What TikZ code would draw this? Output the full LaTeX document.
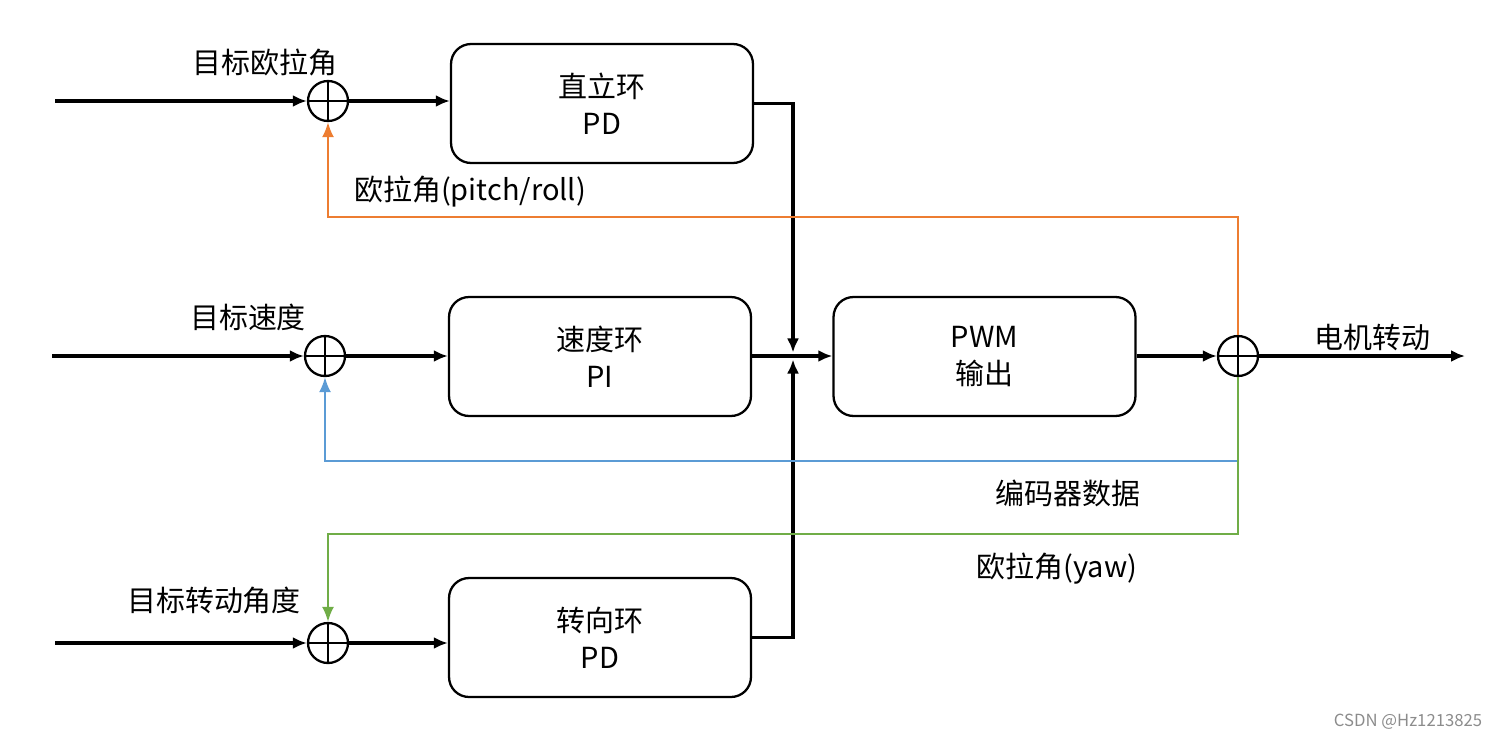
\documentclass[tikz,border=0pt]{standalone}
\usepackage{fontspec}
\setmainfont{Noto Sans CJK SC}
\usetikzlibrary{arrows.meta, positioning}
\definecolor{pitch_orange}{HTML}{ED7D31}
\definecolor{enc_blue}{HTML}{5B9BD5}
\definecolor{yaw_green}{HTML}{70AD47}

\begin{document}
\begin{tikzpicture}[
      x=0.02cm, y=-0.02cm,
      font=\fontsize{16.5}{21}\selectfont,
      loop_box/.style={draw, rounded corners=0.4cm, line width=1.3pt, minimum width=6.04cm, minimum height=2.38cm, align=center},
      sum/.style={circle, draw, line width=1.3pt, minimum size=0.8cm, inner sep=0pt,
        path picture={\draw[line width=0.7pt] (path picture bounding box.north) -- (path picture bounding box.south)
          (path picture bounding box.west) -- (path picture bounding box.east);}},
      arrow/.style={-{Latex[length=0.28cm, width=0.24cm]}, line width=1.9pt},
      feedback/.style={-{Latex[length=0.3cm, width=0.24cm]}, line width=1.2pt}
    ]
      \useasboundingbox (0,0) rectangle (1491,738);

      % Summing points
      \node[sum] (sum_angle) at (328,101) {};
      \node[sum] (sum_speed) at (325,356) {};
      \node[sum] (sum_turn) at (328,643) {};
      \node[sum] (sum_out) at (1238,356) {};

      % Controller boxes
      \node[loop_box] (upright) at (602,103.5) {直立环\\PD};
      \node[loop_box] (speed_loop) at (600,356.5) {速度环\\PI};
      \node[loop_box] (turn_loop) at (600,637.5) {转向环\\PD};
      \node[loop_box] (pwm) at (984.5,356.5) {PWM\\输出};

      % Free ends of the inputs and output
      \coordinate (in_angle) at (55,101);
      \coordinate (in_speed) at (52,356);
      \coordinate (in_turn) at (55,643);
      \coordinate (motor_out) at (1465,356);

      % Junction in front of the PWM block
      \coordinate (junction) at (793,356);

      % Feedback corners
      \coordinate (pitch_corner) at (1238,217);
      \coordinate (enc_tap) at (1238,461);
      \coordinate (yaw_corner) at (1238,534);

      % Labels
      \node at (265,62) {目标欧拉角};
      \node at (248,317) {目标速度};
      \node at (214,601) {目标转动角度};
      \node at (470,192) {欧拉角(pitch/roll)};
      \node at (1372,337) {电机转动};
      \node at (1068,493) {编码器数据};
      \node at (1057,569) {欧拉角(yaw)};
      \node[text=black!45, font=\fontsize{9.5}{11}\selectfont] (mark) at (1408,722) {CSDN @Hz1213825};

      % Forward paths
      \draw[arrow] (in_angle) -- (sum_angle);
      \draw[arrow] (in_speed) -- (sum_speed);
      \draw[arrow] (in_turn) -- (sum_turn);
      \draw[arrow] (sum_angle) -- (sum_angle -| upright.west);
      \draw[arrow] (sum_speed) -- (sum_speed -| speed_loop.west);
      \draw[arrow] (sum_turn) -- (sum_turn -| turn_loop.west);
      \draw[arrow] (upright.east) -| ([yshift=2pt]junction);
      \draw[arrow] (turn_loop.east) -| ([yshift=-2pt]junction);
      \draw[arrow] (junction -| speed_loop.east) -- (junction -| pwm.west);
      \draw[arrow] (sum_out -| pwm.east) -- (sum_out);
      \draw[arrow] (sum_out) -- (motor_out);

      % Feedback paths
      \draw[feedback, pitch_orange] (sum_out.north) -- (pitch_corner) -| (sum_angle.south);
      \draw[feedback, enc_blue] (enc_tap) -| (sum_speed.south);
      \draw[feedback, yaw_green] (sum_out.south) -- (yaw_corner) -| (sum_turn.north);
    \end{tikzpicture}
\end{document}
